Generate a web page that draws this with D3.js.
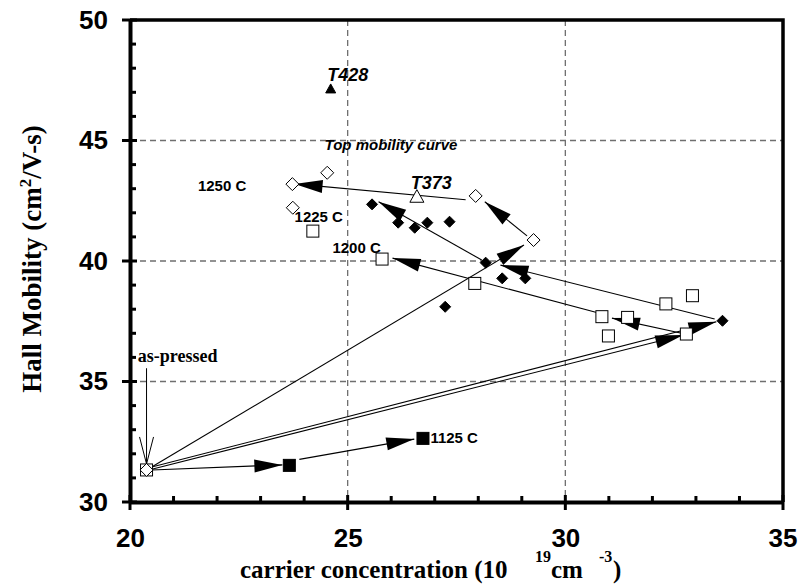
<!DOCTYPE html>
<html>
<head>
<meta charset="utf-8">
<script src="https://cdn.jsdelivr.net/npm/d3@7"></script>
<style>
  body { margin: 0; background: #fff; }
  svg { display: block; }
</style>
</head>
<body>
<svg id="chart" width="798" height="586"></svg>
<script>
// Axis ticks
const xTicks = [20, 25, 30, 35];
const yTicks = [30, 35, 40, 45, 50];

// Samples: [carrier concentration (1e19 cm^-3), Hall mobility (cm2/V-s)]
const asPressed      = [[20.38, 31.33]];
const openDiamonds   = [[23.73, 43.19], [24.53, 43.66], [23.74, 42.21], [27.94, 42.70], [29.27, 40.87]];
const openSquares    = [[24.20, 41.24], [25.79, 40.08], [27.92, 39.07], [30.84, 37.69], [31.43, 37.66],
                        [30.99, 36.89], [32.31, 38.22], [32.92, 38.56], [32.78, 36.97]];
const filledDiamonds = [[25.56, 42.35], [26.16, 41.59], [26.54, 41.38], [26.83, 41.59], [27.34, 41.63],
                        [28.17, 39.93], [28.55, 39.28], [29.08, 39.28], [27.24, 38.10], [33.61, 37.52]];
const filledSquares  = [[23.66, 31.52], [26.73, 32.64]];
const sampleT428     = [[24.61, 47.14]];
const sampleT373     = [[26.59, 42.67]];

// Anneal paths: [x from, y from, x tip, y tip]
const arrows = [
  [20.50, 31.33, 23.50, 31.54],
  [23.89, 31.77, 26.53, 32.61],
  [20.45, 31.40, 29.05, 40.66],
  [20.50, 31.36, 32.71, 36.93],
  [20.50, 31.45, 33.47, 37.48],
  [33.43, 37.59, 28.51, 39.83],
  [28.08, 40.04, 25.71, 42.46],
  [32.67, 37.00, 31.07, 37.63],
  [30.72, 37.86, 26.03, 40.12],
  [29.12, 41.04, 28.15, 42.46],
  [27.71, 42.54, 23.78, 43.20]
];

// Text annotations: [label, x, y, kind]
const notes = [
  ["T428", 24.53, 47.47, "tag"],
  ["Top mobility curve", 24.47, 44.61, "caption"],
  ["T373", 26.45, 42.99, "tag"],
  ["1250 C", 21.56, 42.90, "temp"],
  ["1225 C", 23.78, 41.62, "temp"],
  ["1200 C", 24.65, 40.33, "temp"],
  ["1125 C", 26.90, 32.46, "temp"]
];

const svg = d3.select("#chart");
const x = d3.scaleLinear().domain([20, 35]).range([130, 783]);
const y = d3.scaleLinear().domain([30, 50]).range([502, 20]);

// Dashed grid
const grid = svg.append("g").attr("stroke", "#6f6f6f").attr("stroke-width", 1.3)
  .attr("stroke-dasharray", "6,4").attr("fill", "none");
grid.selectAll("line.gx").data(xTicks.slice(1, -1)).join("line")
  .attr("x1", d => x(d)).attr("x2", d => x(d)).attr("y1", y(50)).attr("y2", y(30));
grid.selectAll("line.gy").data(yTicks.slice(1, -1)).join("line")
  .attr("x1", x(20)).attr("x2", x(35)).attr("y1", d => y(d)).attr("y2", d => y(d));

// Frame (top / right)
svg.append("path")
  .attr("d", `M${x(20)},${y(50)}H${x(35)}V${y(30)}`)
  .attr("fill", "none").attr("stroke", "#000").attr("stroke-width", 3.5);

// Axes
const xAxis = svg.append("g").attr("transform", `translate(0,${y(30)})`)
  .call(d3.axisBottom(x).tickValues(xTicks).tickSize(0).tickPadding(27).tickFormat(d3.format("d")));
const yAxis = svg.append("g").attr("transform", `translate(${x(20)},0)`)
  .call(d3.axisLeft(y).tickValues(yTicks).tickSize(0).tickPadding(22).tickFormat(d3.format("d")));
[xAxis, yAxis].forEach(g => {
  g.select(".domain").attr("stroke", "#000").attr("stroke-width", 4);
  g.selectAll("text").attr("font-family", "Liberation Sans, Arial, sans-serif")
    .attr("font-weight", "bold").attr("font-size", 26).attr("fill", "#000");
});
xAxis.selectAll("text").attr("dy", "0.71em");
// keep the last x label inside the page
xAxis.selectAll(".tick").filter(d => d === 35).select("text").attr("text-anchor", "end").attr("dx", 14);

// Major ticks cross the axis, minor ticks point inward
const minorX = d3.range(21, 35).filter(v => v % 5 !== 0);
const minorY = d3.range(31, 50).filter(v => v % 5 !== 0);
const ticks = svg.append("g").attr("stroke", "#000").attr("stroke-width", 3);
ticks.selectAll("line.mx").data(xTicks).join("line")
  .attr("x1", d => x(d)).attr("x2", d => x(d)).attr("y1", y(30) - 7).attr("y2", y(30) + 8);
ticks.selectAll("line.nx").data(minorX).join("line")
  .attr("x1", d => x(d)).attr("x2", d => x(d)).attr("y1", y(30) - 6).attr("y2", y(30));
ticks.selectAll("line.my").data(yTicks).join("line")
  .attr("y1", d => y(d)).attr("y2", d => y(d)).attr("x1", x(20) - 8).attr("x2", x(20) + 7);
ticks.selectAll("line.ny").data(minorY).join("line")
  .attr("y1", d => y(d)).attr("y2", d => y(d)).attr("x1", x(20)).attr("x2", x(20) + 6);

// Arrows
const lines = svg.append("g");
lines.selectAll("line").data(arrows).join("line")
  .attr("x1", d => x(d[0])).attr("y1", d => y(d[1]))
  .attr("x2", d => x(d[2])).attr("y2", d => y(d[3]))
  .attr("stroke", "#000").attr("stroke-width", 1.1);
const headLen = 28, headHalf = 6.5;
lines.selectAll("path").data(arrows).join("path")
  .attr("d", d => {
    const x1 = x(d[0]), y1 = y(d[1]), x2 = x(d[2]), y2 = y(d[3]);
    const a = Math.atan2(y2 - y1, x2 - x1);
    const bx = x2 - headLen * Math.cos(a), by = y2 - headLen * Math.sin(a);
    const nx = -Math.sin(a) * headHalf, ny = Math.cos(a) * headHalf;
    return `M${x2},${y2}L${bx + nx},${by + ny}L${bx - nx},${by - ny}Z`;
  })
  .attr("fill", "#000");

// Markers
const sq = 12;
function squares(data, fill) {
  svg.append("g").selectAll("rect").data(data).join("rect")
    .attr("x", d => x(d[0]) - sq / 2).attr("y", d => y(d[1]) - sq / 2)
    .attr("width", sq).attr("height", sq)
    .attr("fill", fill).attr("stroke", "#000").attr("stroke-width", 1);
}
function diamonds(data, fill, r) {
  svg.append("g").selectAll("path").data(data).join("path")
    .attr("d", d => `M${x(d[0])},${y(d[1]) - r}L${x(d[0]) + r},${y(d[1])}L${x(d[0])},${y(d[1]) + r}L${x(d[0]) - r},${y(d[1])}Z`)
    .attr("fill", fill).attr("stroke", "#000").attr("stroke-width", 1);
}
function triangles(data, fill, s) {
  svg.append("g").selectAll("path").data(data).join("path")
    .attr("d", d => `M${x(d[0])},${y(d[1]) - s}L${x(d[0]) + s},${y(d[1]) + s * 0.8}L${x(d[0]) - s},${y(d[1]) + s * 0.8}Z`)
    .attr("fill", fill).attr("stroke", "#000").attr("stroke-width", 1);
}
squares(openSquares, "#fff");
squares(asPressed, "#fff");
squares(filledSquares, "#000");
diamonds(openDiamonds, "#fff", 6.5);
diamonds(asPressed, "#fff", 6.5);
diamonds(filledDiamonds, "#000", 5.5);
triangles(sampleT428, "#000", 5);
triangles(sampleT373, "#fff", 7);

// Annotations
const fontFor = {
  tag: { size: 18, style: "italic" },
  caption: { size: 15, style: "italic" },
  temp: { size: 15, style: "normal" }
};
svg.append("g").selectAll("text").data(notes).join("text")
  .attr("x", d => x(d[1])).attr("y", d => y(d[2]))
  .attr("font-family", "Liberation Sans, Arial, sans-serif").attr("font-weight", "bold")
  .attr("font-size", d => fontFor[d[3]].size).attr("font-style", d => fontFor[d[3]].style)
  .text(d => d[0]);

// "as-pressed" pointer
svg.append("text").attr("x", x(20.18)).attr("y", y(35.82))
  .attr("font-family", "Liberation Serif, Times New Roman, serif").attr("font-weight", "bold")
  .attr("font-size", 18).text("as-pressed");
const px = x(asPressed[0][0]), pTop = y(35.55), pTip = y(31.33) - 6;
svg.append("path")
  .attr("d", `M${px},${pTop}V${pTip}M${px - 7},${pTip - 27}L${px},${pTip}L${px + 7},${pTip - 27}`)
  .attr("fill", "none").attr("stroke", "#000").attr("stroke-width", 1);

// Axis titles
const serif = "Liberation Serif, Times New Roman, serif";
const xt = svg.append("g").attr("font-family", serif).attr("font-weight", "bold");
xt.append("text").attr("x", 240).attr("y", 578).attr("font-size", 25).text("carrier concentration (10");
xt.append("text").attr("x", 535).attr("y", 562).attr("font-size", 16).text("19");
xt.append("text").attr("x", 551).attr("y", 578).attr("font-size", 25).text("cm");
xt.append("text").attr("x", 599).attr("y", 562).attr("font-size", 16).text("-3");
xt.append("text").attr("x", 613).attr("y", 578).attr("font-size", 25).text(")");

const yt = svg.append("text")
  .attr("transform", `translate(41,${y(40) - 2}) rotate(-90)`)
  .attr("text-anchor", "middle")
  .attr("font-family", serif).attr("font-weight", "bold")
  .attr("font-size", 27);
yt.append("tspan").text("Hall Mobility (cm");
yt.append("tspan").attr("dy", -10).attr("font-size", 17).text("2");
yt.append("tspan").attr("dy", 10).text("/V-s)");
</script>
</body>
</html>
